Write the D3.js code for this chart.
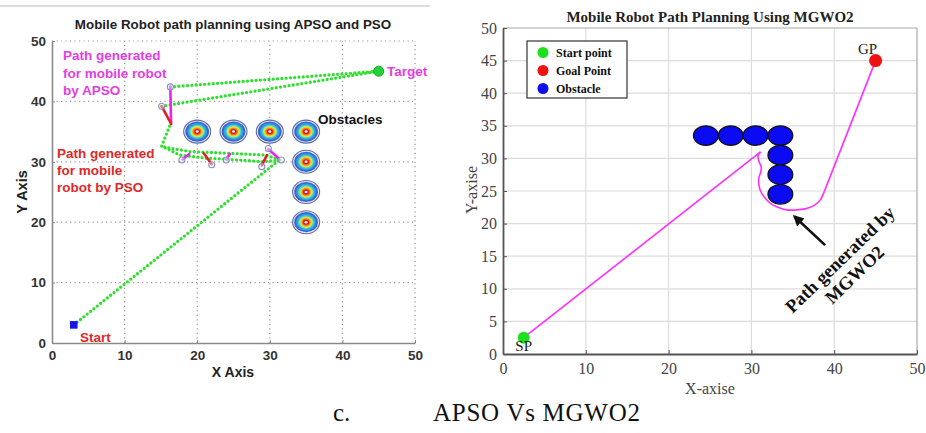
<!DOCTYPE html>
<html>
<head>
<meta charset="utf-8">
<script src="https://cdn.jsdelivr.net/npm/d3@7"></script>
<style>
  html, body { margin: 0; padding: 0; background: #fff; }
  svg { display: block; }
</style>
</head>
<body>
<svg id="fig" width="926" height="433"></svg>
<script>
// ---------- Left panel: APSO and PSO ----------
const leftTicks = [0, 10, 20, 30, 40, 50];
const apsoStart = [3, 3];
const apsoTarget = [45, 45];
const leftObstacles = [[20, 35], [25, 35], [30, 35], [35, 35], [35, 30], [35, 25], [35, 20]];
// dotted green trajectories (x, y pairs)
const greenPaths = [
  [[3, 3], [31.3, 30.3]],
  [[31.3, 30.3], [29.6, 31.1], [24.5, 31.4], [19.0, 31.7], [16.5, 32.2], [15.1, 32.6]],
  [[31.3, 30.3], [28.9, 30.0], [25.9, 30.3], [21.3, 30.6], [17.6, 31.1], [15.1, 32.6]],
  [[15.1, 32.6], [16.3, 36.2]],
  [[16.3, 42.4], [45, 45]],
  [[15.1, 39.2], [45, 45]]
];
const apsoSegments = [
  [[16.3, 42.4], [16.4, 36.3]],
  [[18.0, 30.4], [18.9, 31.3]],
  [[24.0, 30.4], [24.5, 31.3]],
  [[29.8, 32.1], [31.2, 30.6]]
];
const psoSegments = [
  [[15.1, 39.2], [16.4, 36.3]],
  [[20.9, 31.4], [22.0, 29.6]],
  [[28.9, 29.4], [29.6, 31.1]]
];
const waypointMarks = [[16.3, 42.4], [15.1, 39.2], [17.9, 30.3], [22.0, 29.5], [24.0, 30.3], [28.9, 29.2], [29.8, 32.2], [31.6, 30.3]];

// ---------- Right panel: MGWO2 ----------
const rightXTicks = [0, 10, 20, 30, 40, 50];
const rightYTicks = [0, 5, 10, 15, 20, 25, 30, 35, 40, 45, 50];
const mgwoStart = [2.5, 2.5];
const mgwoGoal = [45, 45];
const rightObstacles = [[24.5, 33.5], [27.5, 33.5], [30.5, 33.5], [33.5, 33.5], [33.5, 30.5], [33.5, 27.5], [33.5, 24.5]];
const obstacleRadius = 1.5;
const legX = [2.5, 31.1];           // straight leg SP -> bend
const legY = [2.5, 31.0];
const loopX = [31.1, 30.8, 30.9, 31.2, 31.1, 30.9, 30.9, 31.1, 31.6, 32.3, 33.2, 34.3, 35.4, 36.6, 37.6, 38.3, 38.8];
const loopY = [31.0, 30.4, 29.6, 28.6, 27.8, 27.0, 26.0, 25.0, 24.0, 23.1, 22.5, 22.1, 22.1, 22.3, 22.8, 23.6, 24.9];
const exitX = [38.8, 45];           // straight leg bend -> GP
const exitY = [24.9, 45];
const arrowFrom = [38.9, 16.7];
const arrowTo = [35.2, 21.1];
const legendItems = [
  { label: "Start point", color: "#1fe01f" },
  { label: "Goal Point", color: "#ee1111" },
  { label: "Obstacle", color: "#1010ee" }
];

const svg = d3.select("#fig");
const sans = "'Liberation Sans', Arial, sans-serif";
const serif = "'Liberation Serif', 'Times New Roman', serif";

// ===================== Left panel =====================
const xL = d3.scaleLinear().domain([0, 50]).range([52, 415]);
const yL = d3.scaleLinear().domain([0, 50]).range([343, 41]);
const L = svg.append("g");

L.append("line").attr("x1", 0).attr("x2", 430).attr("y1", 6).attr("y2", 6)
  .attr("stroke", "#d2d2d2").attr("stroke-width", 1.5);

// dotted grid
leftTicks.filter(d => d > 0).forEach(t => {
  L.append("line").attr("x1", xL(t)).attr("x2", xL(t)).attr("y1", yL(0)).attr("y2", yL(50))
    .attr("stroke", "#9a9a9a").attr("stroke-width", 1.2).attr("stroke-dasharray", "1.2 3.3");
  L.append("line").attr("x1", xL(0)).attr("x2", xL(50)).attr("y1", yL(t)).attr("y2", yL(t))
    .attr("stroke", "#9a9a9a").attr("stroke-width", 1.2).attr("stroke-dasharray", "1.2 3.3");
});

const axLB = L.append("g").attr("transform", `translate(0,${yL(0)})`)
  .call(d3.axisBottom(xL).tickValues(leftTicks).tickSizeInner(-3).tickSizeOuter(0).tickPadding(7));
const axLL = L.append("g").attr("transform", `translate(${xL(0)},0)`)
  .call(d3.axisLeft(yL).tickValues(leftTicks).tickSizeInner(-3).tickSizeOuter(0).tickPadding(6));
[axLB, axLL].forEach(a => {
  a.select(".domain").attr("stroke", "#8a8a8a").attr("stroke-width", 1.6);
  a.selectAll(".tick line").attr("stroke", "#8a8a8a");
  a.selectAll("text").attr("font-family", sans).attr("font-weight", "bold")
    .attr("font-size", 13.5).attr("fill", "#333");
});

// contour-style obstacles
const rings = [
  { k: 1.00, c: "#e6e9f5", s: "#5d6aa8" },
  { k: 0.88, c: "#3f64c8", s: "none" },
  { k: 0.74, c: "#2f9fe6", s: "none" },
  { k: 0.60, c: "#3fd6d0", s: "none" },
  { k: 0.50, c: "#c8e85a", s: "none" },
  { k: 0.41, c: "#f4c62c", s: "none" },
  { k: 0.32, c: "#f07a22", s: "none" },
  { k: 0.23, c: "#d81f1f", s: "none" },
  { k: 0.11, c: "#fbeef0", s: "none" }
];
const blurDef = svg.append("defs").append("filter").attr("id", "soft");
blurDef.append("feGaussianBlur").attr("stdDeviation", 0.6);
leftObstacles.forEach(([ox, oy]) => {
  const g = L.append("g").attr("filter", "url(#soft)");
  rings.forEach(r => {
    g.append("ellipse").attr("cx", xL(ox)).attr("cy", yL(oy))
      .attr("rx", 13.5 * r.k).attr("ry", 11.5 * r.k)
      .attr("fill", r.c).attr("stroke", r.s).attr("stroke-width", 1.1);
  });
});

const lineL = d3.line().x(d => xL(d[0])).y(d => yL(d[1]));
greenPaths.forEach(p => {
  L.append("path").attr("d", lineL(p)).attr("fill", "none")
    .attr("stroke", "#2ee02e").attr("stroke-width", 3.3)
    .attr("stroke-linecap", "round").attr("stroke-dasharray", "0 4.3");
});
apsoSegments.forEach(p => {
  L.append("path").attr("d", lineL(p)).attr("fill", "none")
    .attr("stroke", "#ee22ee").attr("stroke-width", 2.6).attr("stroke-linecap", "round");
});
psoSegments.forEach(p => {
  L.append("path").attr("d", lineL(p)).attr("fill", "none")
    .attr("stroke", "#e02020").attr("stroke-width", 2.6).attr("stroke-linecap", "round");
});
waypointMarks.forEach(([wx, wy]) => {
  L.append("circle").attr("cx", xL(wx)).attr("cy", yL(wy)).attr("r", 3)
    .attr("fill", "rgba(255,255,255,0.4)").attr("stroke", "#8c8cc8").attr("stroke-width", 1.1);
});

L.append("rect").attr("x", xL(apsoStart[0]) - 3.8).attr("y", yL(apsoStart[1]) - 3.8)
  .attr("width", 7.6).attr("height", 7.6).attr("fill", "#1515e8");
L.append("circle").attr("cx", xL(apsoTarget[0])).attr("cy", yL(apsoTarget[1])).attr("r", 5)
  .attr("fill", "#22d23a").attr("stroke", "#12a82a").attr("stroke-width", 1);

L.append("text").attr("x", 233).attr("y", 29).attr("text-anchor", "middle")
  .attr("font-family", sans).attr("font-weight", "bold").attr("font-size", 13.4)
  .attr("fill", "#222").text("Mobile Robot path planning using APSO and PSO");
L.append("text").attr("x", 233).attr("y", 377).attr("text-anchor", "middle")
  .attr("font-family", sans).attr("font-weight", "bold").attr("font-size", 14)
  .attr("fill", "#222").text("X Axis");
L.append("text").attr("transform", "translate(27,192) rotate(-90)").attr("text-anchor", "middle")
  .attr("font-family", sans).attr("font-weight", "bold").attr("font-size", 14.5)
  .attr("fill", "#222").text("Y Axis");

function block(lines, x, y0, dy, color) {
  lines.forEach((t, i) => {
    L.append("text").attr("x", x).attr("y", y0 + i * dy)
      .attr("font-family", sans).attr("font-weight", "bold").attr("font-size", 13.5)
      .attr("fill", color).text(t);
  });
}
block(["Path generated", "for mobile robot", "by APSO"], 63, 60, 17.5, "#e23ee2");
block(["Path generated", "for mobile", "robot by PSO"], 57, 158, 17, "#e02828");
block(["Target"], 387, 76, 0, "#e23ee2");
block(["Obstacles"], 318, 124, 0, "#111");
block(["Start"], 80, 342, 0, "#e02828");

// ===================== Right panel =====================
const xR = d3.scaleLinear().domain([0, 50]).range([503, 917]);
const yR = d3.scaleLinear().domain([0, 50]).range([354, 28]);
const R = svg.append("g");

rightXTicks.filter(t => t > 0 && t < 50).forEach(t => {
  R.append("line").attr("x1", xR(t)).attr("x2", xR(t)).attr("y1", yR(0)).attr("y2", yR(50))
    .attr("stroke", "#dcdcdc").attr("stroke-width", 1.2);
});
rightYTicks.filter(t => t > 0 && t < 50).forEach(t => {
  R.append("line").attr("x1", xR(0)).attr("x2", xR(50)).attr("y1", yR(t)).attr("y2", yR(t))
    .attr("stroke", "#dcdcdc").attr("stroke-width", 1.2);
});
R.append("line").attr("x1", xR(0)).attr("x2", xR(50)).attr("y1", yR(50)).attr("y2", yR(50))
  .attr("stroke", "#a8a8a8").attr("stroke-width", 1.2);
R.append("line").attr("x1", xR(50)).attr("x2", xR(50)).attr("y1", yR(0)).attr("y2", yR(50))
  .attr("stroke", "#a8a8a8").attr("stroke-width", 1.2);

const axRB = R.append("g").attr("transform", `translate(0,${yR(0)})`)
  .call(d3.axisBottom(xR).tickValues(rightXTicks).tickSizeInner(-4).tickSizeOuter(0).tickPadding(9));
const axRL = R.append("g").attr("transform", `translate(${xR(0)},0)`)
  .call(d3.axisLeft(yR).tickValues(rightYTicks).tickSizeInner(-4).tickSizeOuter(0).tickPadding(6));
[axRB, axRL].forEach(a => {
  a.select(".domain").attr("stroke", "#555").attr("stroke-width", 1.8);
  a.selectAll(".tick line").attr("stroke", "#555");
  a.selectAll("text").attr("font-family", serif).attr("font-size", 16).attr("fill", "#444");
});

rightObstacles.forEach(([ox, oy]) => {
  R.append("ellipse").attr("cx", xR(ox)).attr("cy", yR(oy))
    .attr("rx", xR(ox + obstacleRadius) - xR(ox)).attr("ry", yR(oy) - yR(oy + obstacleRadius))
    .attr("fill", "#0b0bf2").attr("stroke", "#111").attr("stroke-width", 1.2);
});

const lineR = d3.line().x(d => xR(d[0])).y(d => yR(d[1]));
const pathStyle = p => p.attr("fill", "none").attr("stroke", "#ff2eff").attr("stroke-width", 1.6)
  .attr("stroke-linejoin", "round");
R.append("path").attr("d", lineR(d3.zip(legX, legY))).call(pathStyle);
R.append("path").attr("d", lineR.curve(d3.curveCatmullRom.alpha(0.5))(d3.zip(loopX, loopY))).call(pathStyle);
lineR.curve(d3.curveLinear);
R.append("path").attr("d", lineR(d3.zip(exitX, exitY))).call(pathStyle);

R.append("circle").attr("cx", xR(mgwoStart[0])).attr("cy", yR(mgwoStart[1])).attr("r", 6)
  .attr("fill", "#1fe01f");
R.append("circle").attr("cx", xR(mgwoGoal[0])).attr("cy", yR(mgwoGoal[1])).attr("r", 6.5)
  .attr("fill", "#ee1111");
R.append("text").attr("x", xR(mgwoStart[0])).attr("y", yR(mgwoStart[1]) + 13).attr("text-anchor", "middle")
  .attr("font-family", serif).attr("font-size", 15).attr("fill", "#222").text("SP");
R.append("text").attr("x", xR(mgwoGoal[0]) - 8).attr("y", yR(mgwoGoal[1]) - 7).attr("text-anchor", "middle")
  .attr("font-family", serif).attr("font-size", 15).attr("fill", "#222").text("GP");

// arrow pointing at the path
const defs = svg.select("defs");
defs.append("marker").attr("id", "head").attr("viewBox", "0 0 10 10")
  .attr("refX", 8).attr("refY", 5).attr("markerWidth", 4.2).attr("markerHeight", 4.2)
  .attr("orient", "auto").attr("markerUnits", "strokeWidth")
  .append("path").attr("d", "M0,0 L10,5 L0,10 z").attr("fill", "#111");
R.append("line").attr("x1", xR(arrowFrom[0])).attr("y1", yR(arrowFrom[1]))
  .attr("x2", xR(arrowTo[0])).attr("y2", yR(arrowTo[1]))
  .attr("stroke", "#111").attr("stroke-width", 2.6).attr("marker-end", "url(#head)");

const rot = R.append("g").attr("transform", "translate(847,267) rotate(-44)");
rot.append("text").attr("x", 0).attr("y", -4).attr("text-anchor", "middle")
  .attr("font-family", serif).attr("font-weight", "bold").attr("font-size", 18.5)
  .attr("fill", "#111").text("Path generated by");
rot.append("text").attr("x", 0).attr("y", 17).attr("text-anchor", "middle")
  .attr("font-family", serif).attr("font-weight", "bold").attr("font-size", 18.5)
  .attr("fill", "#111").text("MGWO2");

// legend
const lg = R.append("g");
lg.append("rect").attr("x", 527).attr("y", 41).attr("width", 100).attr("height", 57)
  .attr("fill", "#fff").attr("stroke", "#333").attr("stroke-width", 1.2);
legendItems.forEach((d, i) => {
  lg.append("circle").attr("cx", 543).attr("cy", 52.5 + i * 18).attr("r", 5.5).attr("fill", d.color);
  lg.append("text").attr("x", 556).attr("y", 56.5 + i * 18)
    .attr("font-family", serif).attr("font-weight", "bold").attr("font-size", 12)
    .attr("fill", "#111").text(d.label);
});

R.append("text").attr("x", 710).attr("y", 22).attr("text-anchor", "middle")
  .attr("font-family", serif).attr("font-weight", "bold").attr("font-size", 15)
  .attr("fill", "#222").text("Mobile Robot Path Planning Using MGWO2");
R.append("text").attr("x", 710).attr("y", 394).attr("text-anchor", "middle")
  .attr("font-family", serif).attr("font-size", 16).attr("fill", "#444").text("X-axise");
R.append("text").attr("transform", "translate(477,190) rotate(-90)").attr("text-anchor", "middle")
  .attr("font-family", serif).attr("font-size", 16).attr("fill", "#444").text("Y-axise");

// ===================== Caption =====================
svg.append("text").attr("x", 333).attr("y", 421)
  .attr("font-family", serif).attr("font-size", 25).attr("fill", "#111").text("c.");
svg.append("text").attr("x", 433).attr("y", 421)
  .attr("font-family", serif).attr("font-size", 25).attr("fill", "#111")
  .attr("textLength", 207).attr("lengthAdjust", "spacing").text("APSO Vs MGWO2");
</script>
</body>
</html>
